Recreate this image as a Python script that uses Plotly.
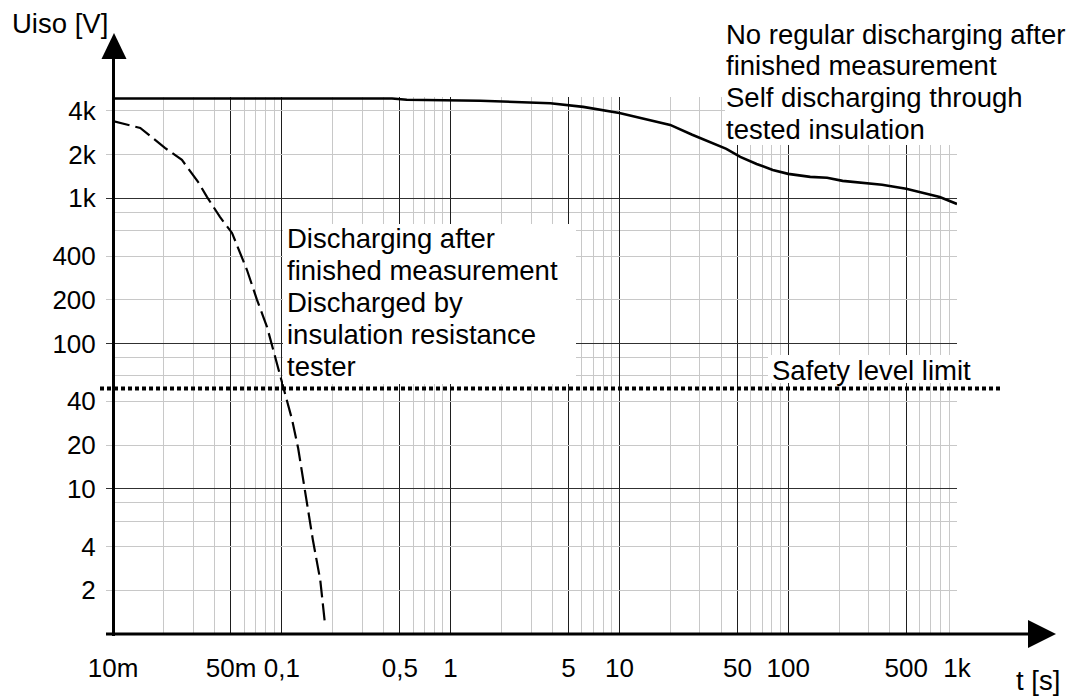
import plotly.graph_objects as go

# ---------------- data ----------------
# self discharging through tested insulation (solid curve)
t_self = [0.01, 0.45, 0.55, 1.5, 3.9, 6.1, 10, 15, 20, 27, 34, 43, 52, 65, 81,
          100, 135, 170, 210, 280, 360, 500, 630, 790, 1000]
u_self = [4875, 4875, 4775, 4700, 4520, 4265, 3875, 3470, 3205, 2740, 2450, 2190,
          1930, 1725, 1570, 1475, 1405, 1385, 1320, 1278, 1240, 1163, 1090, 1023, 915]

# discharged by insulation resistance tester (dashed curve)
t_dis = [0.01, 0.0145, 0.0203, 0.0256, 0.0319, 0.0361, 0.043, 0.0507, 0.0622,
         0.0713, 0.0818, 0.0912, 0.1017, 0.115, 0.125, 0.137, 0.153, 0.169, 0.18]
u_dis = [3400, 3055, 2225, 1840, 1300, 1020, 745, 578, 321, 200, 130, 81, 50,
         30, 19, 9.8, 4.4, 2.35, 1.19]

safety_level = 49

x_tick_vals = [0.01, 0.05, 0.1, 0.5, 1, 5, 10, 50, 100, 500, 1000]
x_tick_text = ["10m", "50m", "0,1", "0,5", "1", "5", "10", "50", "100", "500", "1k"]
x_minor_vals = [0.02, 0.03, 0.04, 0.06, 0.07, 0.08, 0.09,
                0.2, 0.3, 0.4, 0.6, 0.7, 0.8, 0.9,
                2, 3, 4, 6, 7, 8, 9,
                20, 30, 40, 60, 70, 80, 90,
                200, 300, 400, 600, 700, 800, 900]

y_tick_vals = [2, 4, 10, 20, 40, 100, 200, 400, 1000, 2000, 4000]
y_tick_text = ["2", "4", "10", "20", "40", "100", "200", "400", "1k", "2k", "4k"]
y_minor_vals = [6, 8, 60, 80, 600, 800]
y_decades = [10, 100, 1000]

text_top_right = ["No regular discharging after", "finished measurement",
                  "Self discharging through", "tested insulation"]
text_middle = ["Discharging after", "finished measurement", "Discharged by",
               "insulation resistance", "tester"]

# ---------------- layout helpers ----------------
W, H = 1077, 700
L, R, T, B = 113, 957, 97, 634


def px(x):
    return (x - L) / (R - L)


def py(y):
    return (B - y) / (B - T)


FONT = "Liberation Sans, Arial, sans-serif"
LIGHT = "#c8c8c8"
DARK = "#1e1e1e"

fig = go.Figure()
fig.add_trace(go.Scatter(x=t_self, y=u_self, mode="lines",
                         line=dict(color="black", width=2.6), showlegend=False))
fig.add_trace(go.Scatter(x=t_dis, y=u_dis, mode="lines",
                         line=dict(color="black", width=2.2, dash="17px,6px"),
                         showlegend=False))
fig.add_trace(go.Scatter(x=[], y=[], yaxis="y2", showlegend=False))

shapes = []
# white label backgrounds
for (x0, x1, y0, y1) in [(725, 1077, 0, 145), (283, 576, 224, 384), (768, 978, 355, 383)]:
    shapes.append(dict(type="rect", xref="paper", yref="paper",
                       x0=px(x0), x1=px(x1), y0=py(y1), y1=py(y0),
                       fillcolor="white", line=dict(width=0), layer="above"))
# safety level limit dotted line
shapes.append(dict(type="line", xref="paper", yref="y", x0=px(100), x1=px(1000),
                   y0=safety_level, y1=safety_level,
                   line=dict(color="black", width=4, dash="4px,3px"), layer="above"))
# axes with arrows
shapes.append(dict(type="line", xref="paper", yref="paper", x0=px(113.5), x1=px(113.5),
                   y0=py(636), y1=py(57), line=dict(color="black", width=3), layer="above"))
shapes.append(dict(type="path", xref="paper", yref="paper",
                   path=f"M {px(101.5)} {py(59)} L {px(114)} {py(33)} L {px(126.5)} {py(59)} Z",
                   fillcolor="black", line=dict(width=0), layer="above"))
shapes.append(dict(type="line", xref="paper", yref="paper", x0=px(106), x1=px(1030),
                   y0=py(634), y1=py(634), line=dict(color="black", width=3), layer="above"))
shapes.append(dict(type="path", xref="paper", yref="paper",
                   path=f"M {px(1028)} {py(620)} L {px(1056)} {py(634)} L {px(1028)} {py(648)} Z",
                   fillcolor="black", line=dict(width=0), layer="above"))

annotations = []


def add_text(txt, x, yc, size=27.5):
    annotations.append(dict(text=txt, xref="paper", yref="paper", x=px(x), y=py(yc),
                            xanchor="left", yanchor="middle", showarrow=False,
                            borderpad=0, font=dict(family=FONT, size=size, color="black")))


for i, line in enumerate(text_top_right):
    add_text(line, 725, 34 + i * 31.7)
for i, line in enumerate(text_middle):
    add_text(line, 286, 238 + i * 32)
add_text("Safety level limit", 771, 370)
add_text("Uiso [V]", 11, 23)
add_text("t [s]", 1015, 680)

fig.update_layout(
    width=W, height=H,
    margin=dict(l=L, r=W - R, t=T, b=H - B, pad=0),
    paper_bgcolor="white", plot_bgcolor="white",
    showlegend=False,
    shapes=shapes, annotations=annotations,
    xaxis=dict(type="log", range=[-2, 3], showline=False, zeroline=False,
               tickmode="array", tickvals=x_tick_vals, ticktext=x_tick_text,
               showgrid=True, gridcolor=DARK, gridwidth=1.3, ticks="",
               tickfont=dict(family=FONT, size=26, color="black"),
               ticklabelstandoff=16,
               minor=dict(tickmode="array", tickvals=x_minor_vals, showgrid=True,
                          gridcolor=LIGHT, gridwidth=1.3, ticks="")),
    yaxis=dict(type="log", range=[0, 3.698], showline=False, zeroline=False,
               tickmode="array", tickvals=y_tick_vals, ticktext=y_tick_text,
               showgrid=True, gridcolor=LIGHT, gridwidth=1.3,
               ticks="outside", ticklen=6, tickwidth=1.3, tickcolor=LIGHT,
               tickfont=dict(family=FONT, size=26, color="black"),
               ticklabelstandoff=5,
               minor=dict(tickmode="array", tickvals=y_minor_vals, showgrid=True,
                          gridcolor=LIGHT, gridwidth=1.3, ticks="")),
    yaxis2=dict(type="log", range=[0, 3.698], overlaying="y", side="left", anchor="x",
                showline=False, zeroline=False, tickmode="array", tickvals=y_decades,
                showticklabels=False, showgrid=True, gridcolor="#303030", gridwidth=1.4,
                ticks="outside", ticklen=6, tickwidth=1.4, tickcolor="#303030"),
)

fig.write_html("out.html", config={"displayModeBar": False},
               post_script="document.body.style.margin='0';")
